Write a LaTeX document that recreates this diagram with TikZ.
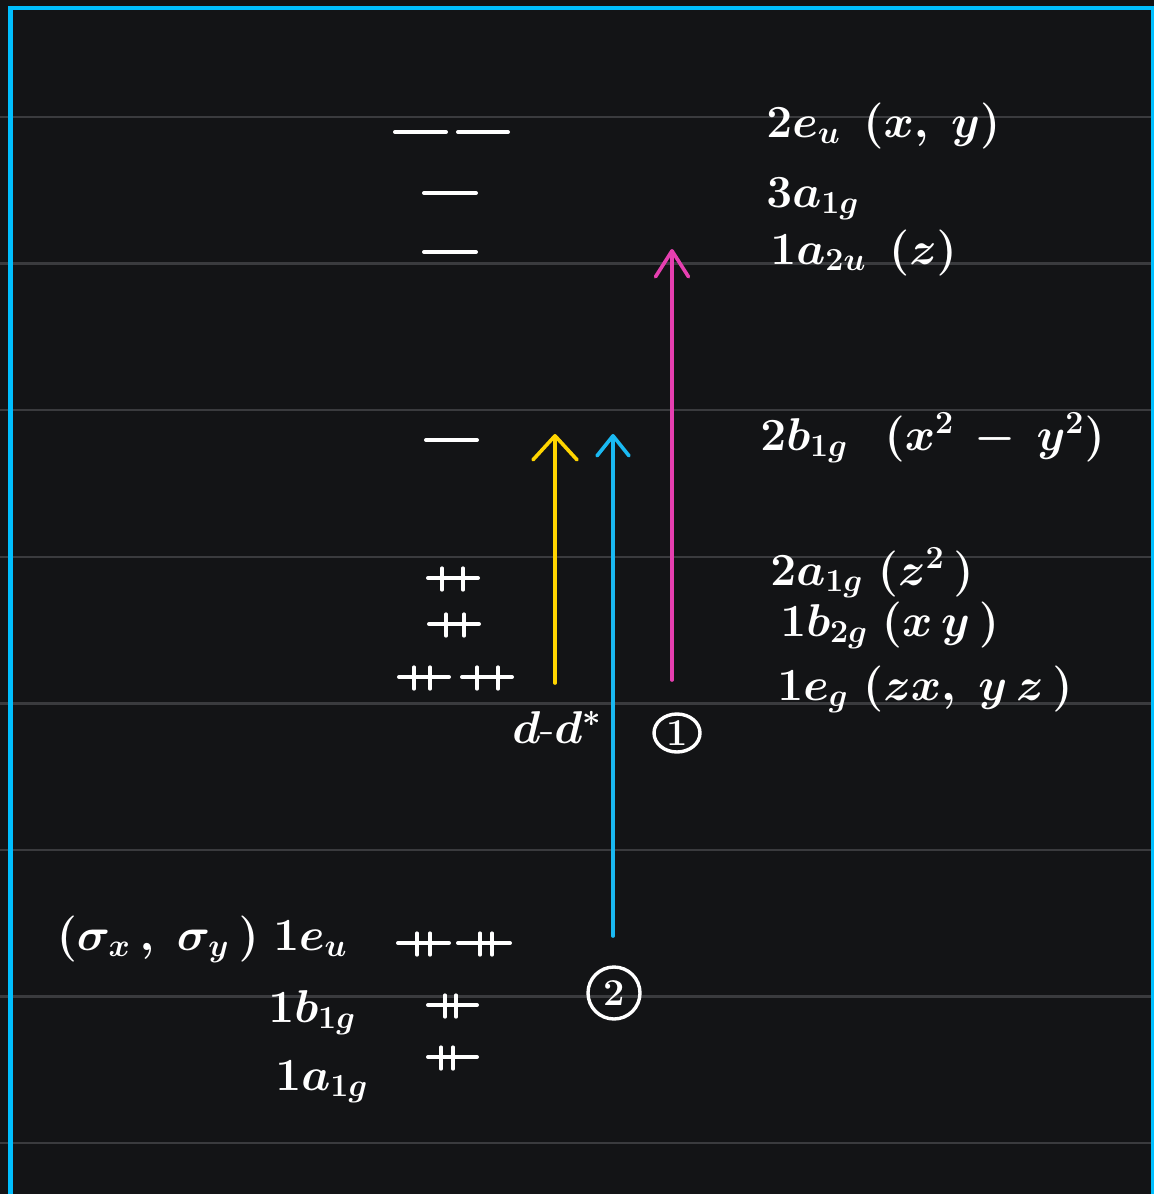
\RequirePackage{fix-cm}
\documentclass[tikz,border=0pt]{standalone}
\usetikzlibrary{arrows.meta, shapes.geometric}
\definecolor{cbg}{HTML}{131416}
\definecolor{cgrid}{HTML}{3A3B3E}
\definecolor{cframe}{HTML}{00BFFF}
\definecolor{cblue}{HTML}{1AB9F2}
\definecolor{cyellow}{HTML}{FFD500}
\definecolor{cpink}{HTML}{E63FB0}
\tikzset{
  every picture/.style={x=0.5pt, y=-0.5pt, line cap=round},
  level/.style={draw=white, line width=2pt},
  spin/.style={draw=white, line width=1.6pt},
  lbl/.style={text=white, inner sep=0pt, font=\fontsize{23}{27}\selectfont\boldmath},
  rule/.style={draw=cgrid, line width=1.2pt},
  arrow/.style={draw=#1, line width=1.8pt},
  circnum/.style={draw=white, line width=1.7pt, text=white, inner sep=0pt, font=\fontsize{19}{19}\selectfont\bfseries},
}

\begin{document}
\begin{tikzpicture}
  \useasboundingbox[fill=cbg] (0,0) rectangle (1154,1194);
  % ruled paper
  \foreach \y in {117, 263.6, 410.2, 556.8, 703.4, 850, 996.6, 1143.2}
    \draw[rule] (0,\y) -- (1154,\y);
  \draw[draw=cframe, line width=2.2pt, line cap=butt] (10.5,1194) -- (10.5,8) -- (1153,8) -- (1153,1194);

  % energy levels
  \foreach \xa/\xb/\y in {395/446/132, 458/508/132, 424/476/193, 424/476/252, 426/477/440,
      428/478/578, 429/479/624, 399/449/677, 462/512/677,
      398/449/943, 458/510/943, 428/477/1005, 428/477/1057}
    \draw[level] (\xa,\y) -- (\xb,\y);
  % electron pairs
  \foreach \x/\y in {442/578, 463/578, 446/624, 464/624, 414/677, 430/677, 477/677, 498/677,
      417/943, 430/943, 480/943, 492/943, 445/1005, 456/1005, 441/1057, 453/1057}
    \draw[spin] (\x,\y-10) -- (\x,\y+12);

  % labels, right side
  \node[lbl, anchor=base west] (eu2) at (766,137) {$2e_u\ \,(x,\ y)$};
  \node[lbl, anchor=base west] (ag3) at (766,207) {$3a_{1g}$};
  \node[lbl, anchor=base west] (au1) at (770,264) {$1a_{2u}\ \,(z)$};
  \node[lbl, anchor=base west] (bg2) at (760,450) {$2b_{1g}\ \ \,(x^2\,-\,y^2)$};
  \node[lbl, anchor=base west] (ag2) at (770,585) {$2a_{1g}\;(z^2\,)$};
  \node[lbl, anchor=base west] (bz1) at (780,636) {$1b_{2g}\ (x\,y\,)$};
  \node[lbl, anchor=base west] (eg1) at (777,700) {$1e_g\;(zx,\ y\,z\,)$};
  % labels, left side
  \node[lbl, anchor=base east] (eu1) at (348,950) {$(\sigma_x\,,\ \sigma_y\,)\;1e_u$};
  \node[lbl, anchor=base west] (bg1) at (268,1022) {$1b_{1g}$};
  \node[lbl, anchor=base west] (ag1) at (275,1090) {$1a_{1g}$};

  % transitions
  \coordinate (ylo) at (555,683);
  \coordinate (yhi) at (555,434);
  \coordinate (blo) at (613,936);
  \coordinate (bhi) at (613,434);
  \coordinate (plo) at (672,680);
  \coordinate (phi) at (672,249);
  \draw[arrow=cyellow, -{Straight Barb[length=12pt, width=22pt, round]}] (ylo) -- (yhi);
  \draw[arrow=cblue, -{Straight Barb[length=10pt, width=16pt, round]}] (blo) -- (bhi);
  \draw[arrow=cpink, -{Straight Barb[length=13pt, width=16.5pt, round]}] (plo) -- (phi);
  \node[lbl, anchor=base west] (dd) at (512,743) {$d$-$d^{*}$};
  \node[circnum, ellipse, minimum width=23pt, minimum height=19pt] (one) at (677,733) {1};
  \node[circnum, circle, minimum size=26pt] (two) at (614,993) {2};
\end{tikzpicture}
\end{document}
